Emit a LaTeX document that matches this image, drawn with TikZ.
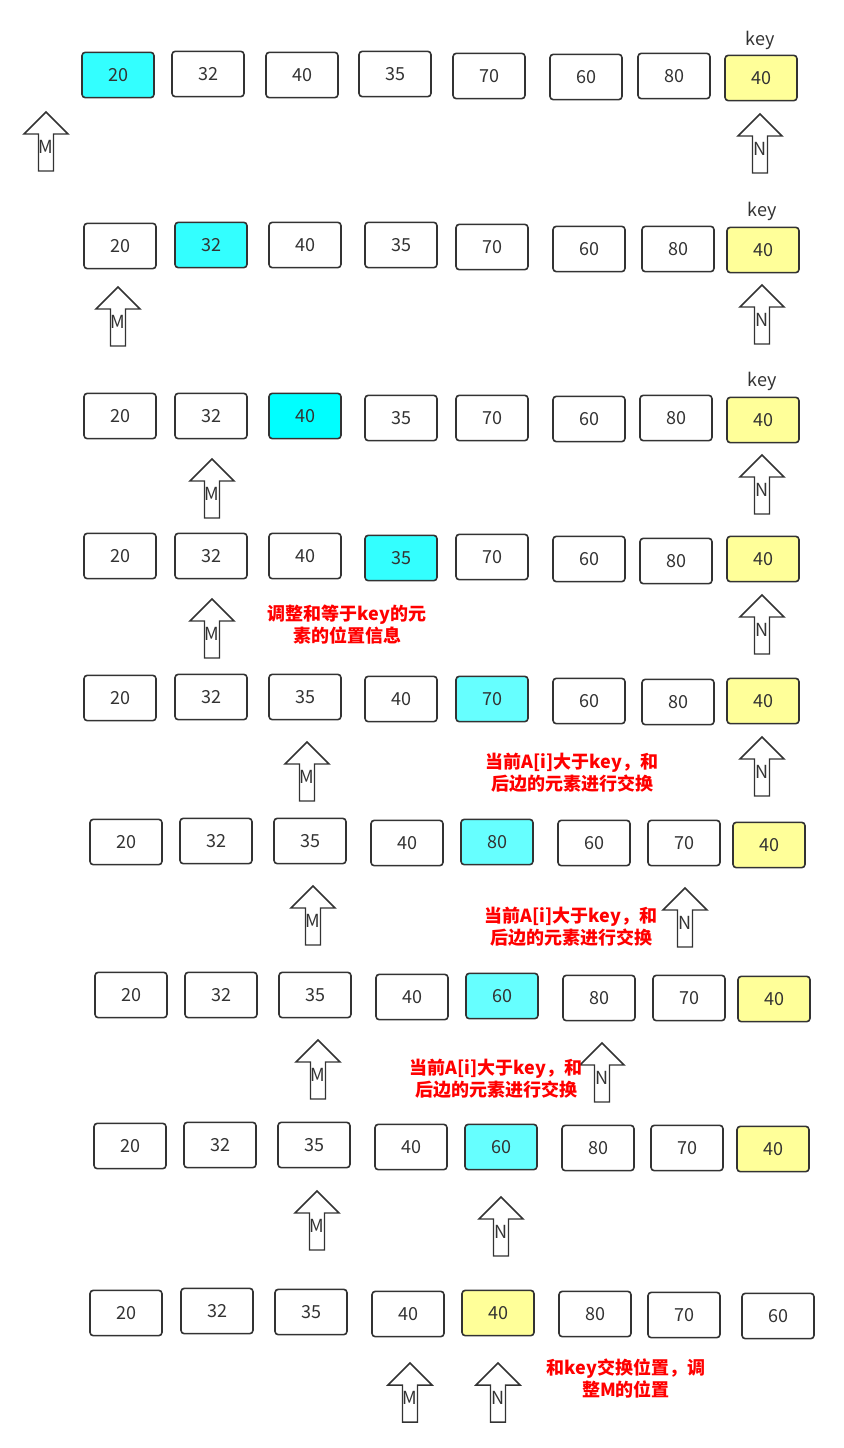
\documentclass[tikz,border=0pt]{standalone}
\usepackage{fontspec}
\setmainfont{Noto Sans CJK SC}
\usepackage{xcolor}
\usepackage{tikz}
\usetikzlibrary{positioning}

\definecolor{ink}{HTML}{333333}
\definecolor{hiA}{HTML}{33FFFF}
\definecolor{hiB}{HTML}{00FFFF}
\definecolor{hiC}{HTML}{66FFFF}
\definecolor{keyc}{HTML}{FFFF99}
\definecolor{note}{HTML}{FF0000}

\tikzset{
  cell/.style={draw=ink, line width=1.2pt, rounded corners=2.5pt,
    minimum width=54pt, minimum height=34pt, inner sep=0pt,
    text=ink, font=\fontsize{13.5}{16}\selectfont},
  keylbl/.style={text=ink, inner sep=0pt, font=\fontsize{13.5}{16}\selectfont},
  notetxt/.style={text=note, align=center, inner sep=0pt,
    font=\bfseries\fontsize{13.5}{16.5}\selectfont},
  ptrtext/.style={text=ink, inner sep=0pt, font=\fontsize{13.5}{16}\selectfont},
  ptr/.pic={
    \draw[ink, line width=1.1pt, fill=white, line join=miter]
      (0,0) -- (22,22) -- (7.5,22) -- (7.5,59) -- (-7.5,59)
      -- (-7.5,22) -- (-22,22) -- cycle;
    \node[ptrtext] (-lbl) at (0,35) {#1};
  }
}

\begin{document}
\begin{tikzpicture}[x=0.75pt, y=-0.75pt]
  \useasboundingbox (0,0) rectangle (843,1448);
  % row 1
  \foreach \c/\x/\y/\v/\f in {1/118/75/20/hiA, 2/208/74/32/white, 3/302/75/40/white,
    4/395/74/35/white, 5/489/76/70/white, 6/586/77/60/white, 7/674/76/80/white, 8/761/78/40/keyc}
  {
    \node[cell, fill=\f] (b1-\c) at (\x,\y) {\v};
  }
  % row 2
  \foreach \c/\x/\y/\v/\f in {1/120/246/20/white, 2/211/245/32/hiA, 3/305/245/40/white,
    4/401/245/35/white, 5/492/247/70/white, 6/589/249/60/white, 7/678/249/80/white, 8/763/250/40/keyc}
  {
    \node[cell, fill=\f] (b2-\c) at (\x,\y) {\v};
  }
  % row 3
  \foreach \c/\x/\y/\v/\f in {1/120/416/20/white, 2/211/416/32/white, 3/305/416/40/hiB,
    4/401/418/35/white, 5/492/418/70/white, 6/589/419/60/white, 7/676/418/80/white, 8/763/420/40/keyc}
  {
    \node[cell, fill=\f] (b3-\c) at (\x,\y) {\v};
  }
  % row 4
  \foreach \c/\x/\y/\v/\f in {1/120/556/20/white, 2/211/556/32/white, 3/305/556/40/white,
    4/401/558/35/hiA, 5/492/557/70/white, 6/589/559/60/white, 7/676/561/80/white, 8/763/559/40/keyc}
  {
    \node[cell, fill=\f] (b4-\c) at (\x,\y) {\v};
  }
  % row 5
  \foreach \c/\x/\y/\v/\f in {1/120/698/20/white, 2/211/697/32/white, 3/305/697/35/white,
    4/401/699/40/white, 5/492/699/70/hiC, 6/589/701/60/white, 7/678/702/80/white, 8/763/701/40/keyc}
  {
    \node[cell, fill=\f] (b5-\c) at (\x,\y) {\v};
  }
  % row 6
  \foreach \c/\x/\y/\v/\f in {1/126/842/20/white, 2/216/841/32/white, 3/310/841/35/white,
    4/407/843/40/white, 5/497/842/80/hiC, 6/594/843/60/white, 7/684/843/70/white, 8/769/845/40/keyc}
  {
    \node[cell, fill=\f] (b6-\c) at (\x,\y) {\v};
  }
  % row 7
  \foreach \c/\x/\y/\v/\f in {1/131/995/20/white, 2/221/995/32/white, 3/315/995/35/white,
    4/412/997/40/white, 5/502/996/60/hiC, 6/599/998/80/white, 7/689/998/70/white, 8/774/999/40/keyc}
  {
    \node[cell, fill=\f] (b7-\c) at (\x,\y) {\v};
  }
  % row 8
  \foreach \c/\x/\y/\v/\f in {1/130/1146/20/white, 2/220/1145/32/white, 3/314/1145/35/white,
    4/411/1147/40/white, 5/501/1147/60/hiC, 6/598/1148/80/white, 7/687/1148/70/white, 8/773/1149/40/keyc}
  {
    \node[cell, fill=\f] (b8-\c) at (\x,\y) {\v};
  }
  % row 9
  \foreach \c/\x/\y/\v/\f in {1/126/1313/20/white, 2/217/1311/32/white, 3/311/1312/35/white,
    4/408/1314/40/white, 5/498/1313/40/keyc, 6/595/1314/80/white, 7/684/1315/70/white, 8/778/1316/60/white}
  {
    \node[cell, fill=\f] (b9-\c) at (\x,\y) {\v};
  }
  % key labels
  \node[keylbl] (key1) at (760,40) {key};
  \node[keylbl] (key2) at (762,211) {key};
  \node[keylbl] (key3) at (762,381) {key};
  % M and N pointers
  \foreach \p/\x/\y/\t in {m1/46/112/M, n1/760/114/N, m2/118/287/M, n2/762/285/N,
    m3/212/459/M, n3/762/455/N, m4/212/599/M, n4/762/595/N,
    m5/307/742/M, n5/762/737/N, m6/313/886/M, n6/685/888/N,
    m7/318/1040/M, n7/602/1043/N, m8/317/1191/M, n8/501/1197/N,
    m9/410/1363/M, n9/498/1363/N}
  {
    \pic (\p) at (\x,\y) {ptr=\t};
  }
  % notes
  \node[notetxt] (note1) at (347,625) {调整和等于key的元\\素的位置信息};
  \node[notetxt] (note2) at (572,773) {当前A[i]大于key，和\\后边的元素进行交换};
  \node[notetxt] (note3) at (571,927) {当前A[i]大于key，和\\后边的元素进行交换};
  \node[notetxt] (note4) at (496,1079) {当前A[i]大于key，和\\后边的元素进行交换};
  \node[notetxt] (note5) at (626,1378) {和key交换位置，调\\整M的位置};
\end{tikzpicture}
\end{document}
